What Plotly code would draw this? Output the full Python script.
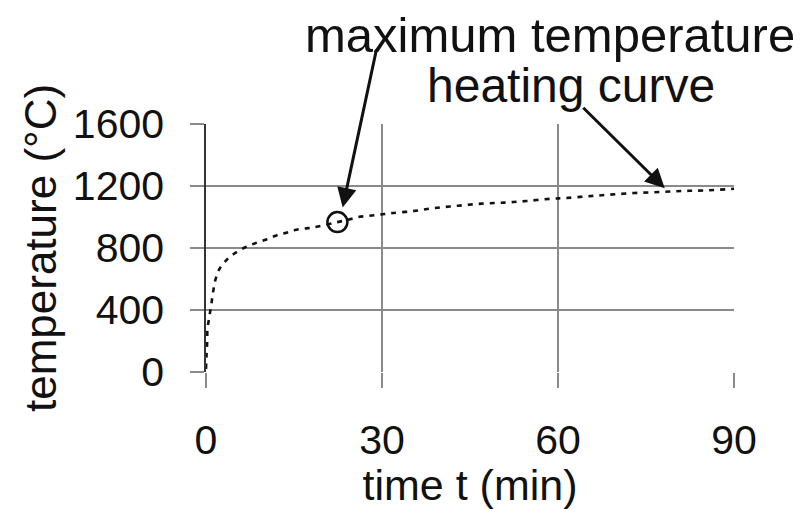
import plotly.graph_objects as go

# Heating curve
time_min = [0, 0.1, 0.2, 0.25, 0.55, 0.9, 1.2, 1.6, 2.3, 3.4, 4.9, 6.7, 8.4, 10.3, 12.0,
            13.7, 15.4, 17.4, 19.1, 22.4, 24.2, 25.9, 29.6, 31.6, 35.3, 39.0, 43.0, 47.0,
            50.9, 54.6, 58.9, 61.2, 64.9, 68.8, 73.1, 77.4, 81.3, 85.3, 90.0]
temperature_c = [20, 115, 190, 276, 352, 434, 514, 594, 665, 719, 766, 805, 831, 855, 881,
                 898, 918, 928, 939, 967, 982, 999, 1015, 1025, 1038, 1058, 1073, 1086,
                 1093, 1103, 1118, 1122, 1133, 1144, 1155, 1161, 1168, 1172, 1182]

max_point_t = [22.4]
max_point_temp = [967]

x_ticks = [0, 30, 60, 90]
y_ticks = [0, 400, 800, 1200, 1600]

FONT = "Liberation Sans, Arial, sans-serif"
GRID = "#8a8a8a"

fig = go.Figure()
fig.add_trace(go.Scatter(
    x=time_min, y=temperature_c, mode="lines",
    line=dict(color="#111111", width=2.6, dash="5px,6px", shape="spline"),
    showlegend=False, hoverinfo="skip"))
fig.add_trace(go.Scatter(
    x=max_point_t, y=max_point_temp, mode="markers",
    marker=dict(symbol="circle-open", size=20, color="#111111", line=dict(width=2.5, color="#111111")),
    showlegend=False, hoverinfo="skip"))

# The page body adds an 8px offset, so the figure is 8px smaller and margins shifted.
fig.update_layout(
    width=793, height=501,
    margin=dict(l=198, r=67, t=116, b=130),
    paper_bgcolor="white", plot_bgcolor="white",
    font=dict(family=FONT, color="#111111"),
    showlegend=False,
)
fig.update_xaxes(
    range=[0, 90], tickvals=x_ticks, ticktext=[str(v) for v in x_ticks],
    showgrid=True, gridcolor=GRID, gridwidth=1.5,
    zeroline=False, showline=False,
    ticks="outside", ticklen=15, tickwidth=1.5, tickcolor=GRID,
    tickfont=dict(size=41, family=FONT, color="#111111"),
    ticklabelstandoff=17,
    title=dict(text="time t (min)", font=dict(size=43, family=FONT, color="#111111"), standoff=4),
)
fig.update_yaxes(
    range=[0, 1600], tickvals=y_ticks, ticktext=[str(v) for v in y_ticks],
    showgrid=True, gridcolor=GRID, gridwidth=1.5,
    zeroline=False, showline=True, linecolor="#333333", linewidth=1.5,
    ticks="outside", ticklen=14, tickwidth=1.5, tickcolor=GRID,
    tickfont=dict(size=41, family=FONT, color="#111111"),
    ticklabelstandoff=18,
    title=dict(text="temperature (°C)", font=dict(size=44, family=FONT, color="#111111"), standoff=2),
)

# Text labels
fig.add_annotation(xref="paper", yref="paper", x=0.651, y=1.36, text="maximum temperature",
                   showarrow=False, font=dict(size=49, family=FONT, color="#111111"),
                   xanchor="center", yanchor="middle")
fig.add_annotation(xref="paper", yref="paper", x=0.692, y=1.154, text="heating curve",
                   showarrow=False, font=dict(size=48, family=FONT, color="#111111"),
                   xanchor="center", yanchor="middle")
# Arrows
fig.add_annotation(x=23.3, y=1062, xref="x", yref="y", text="", showarrow=True,
                   ax=34, ay=-159, axref="pixel", ayref="pixel",
                   arrowhead=2, arrowsize=1.3, arrowwidth=3, arrowcolor="#111111")
fig.add_annotation(x=78.2, y=1185, xref="x", yref="y", text="", showarrow=True,
                   ax=-83, ay=-82, axref="pixel", ayref="pixel",
                   arrowhead=2, arrowsize=1.3, arrowwidth=3, arrowcolor="#111111")

fig.write_html("out.html")
